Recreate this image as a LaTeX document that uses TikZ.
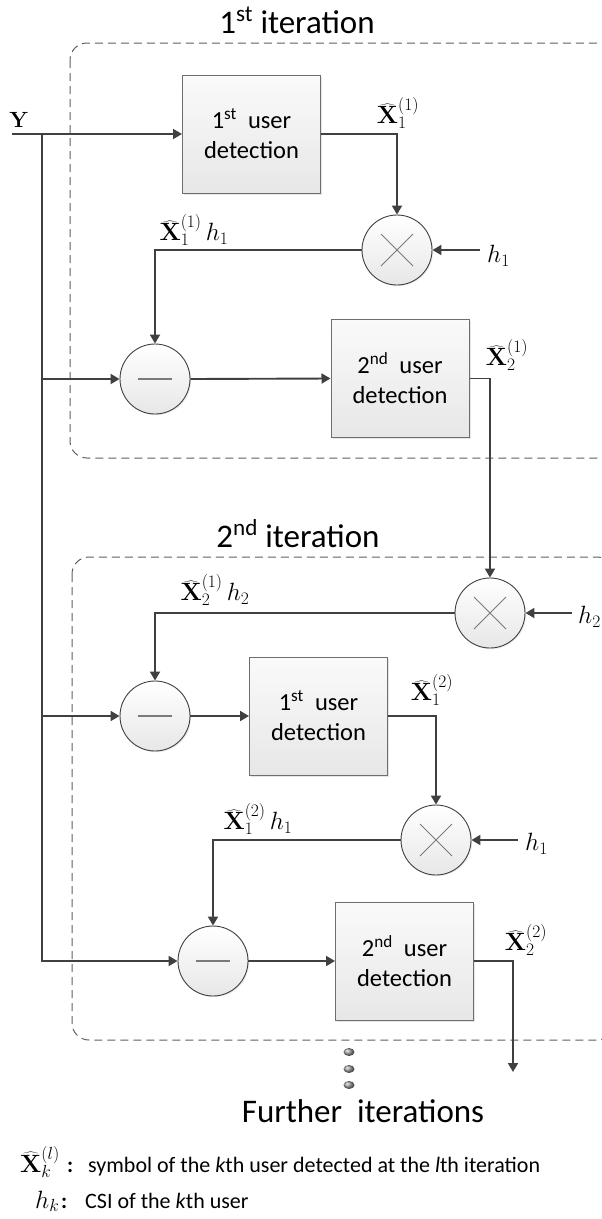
\documentclass[tikz,border=0pt]{standalone}
\usepackage{fix-cm}
\usepackage[no-math]{fontspec}
\setmainfont{Carlito}
\usetikzlibrary{arrows.meta,shadows,shapes.geometric}

\definecolor{wirecol}{HTML}{404040}
\definecolor{boxline}{HTML}{6E6E6E}
\definecolor{boxtop}{HTML}{FAFAFA}
\definecolor{boxbot}{HTML}{E7E7E7}
\definecolor{dashcol}{HTML}{606060}
\definecolor{signcol}{HTML}{7A7A7A}

\newcommand{\Xh}{\widehat{\mathbf{X}}}

\begin{document}
\begin{tikzpicture}[x=1pt,y=-1pt,
  wire/.style={draw=wirecol,line width=1.9pt},
  arr/.style={wire,-{Triangle[length=9pt,width=10pt]}},
  dbox/.style={draw=dashcol,line width=1pt,dash pattern=on 8pt off 5pt,rounded corners=17pt},
  blk/.style={draw=boxline,line width=1pt,top color=boxtop,bottom color=boxbot,
    minimum width=138pt,minimum height=118pt,inner sep=0pt,align=center,
    font=\fontsize{24.5}{30}\selectfont,
    drop shadow={shadow xshift=1.5pt,shadow yshift=-1.5pt,opacity=0.2}},
  sumnode/.style={circle,draw=wirecol,line width=0.9pt,top color=white,bottom color=boxbot,
    minimum size=70pt,inner sep=0pt,
    drop shadow={shadow xshift=1.2pt,shadow yshift=-1.2pt,opacity=0.15}},
  mult/.style={sumnode,path picture={
    \draw[signcol,line width=0.9pt]
      ([shift={(-16pt,-16pt)}]path picture bounding box.center) -- ([shift={(16pt,16pt)}]path picture bounding box.center)
      ([shift={(-16pt,16pt)}]path picture bounding box.center) -- ([shift={(16pt,-16pt)}]path picture bounding box.center);}},
  minus/.style={sumnode,path picture={
    \draw[signcol,line width=1.2pt]
      ([xshift=-17pt]path picture bounding box.center) -- ([xshift=17pt]path picture bounding box.center);}},
  ttl/.style={font=\fontsize{33}{38}\selectfont,anchor=base,inner sep=0pt},
  mlab/.style={font=\fontsize{25}{29}\selectfont,inner sep=0pt},
  leg/.style={font=\fontsize{22}{26}\selectfont,anchor=base west,inner sep=0pt},
  dot/.style={ellipse,minimum width=11pt,minimum height=8pt,inner sep=0pt,shade,ball color=gray!80}]

\useasboundingbox (0,0) rectangle (602,1219);
\clip (0,0) rectangle (602,1219);
\fill[white] (0,0) rectangle (602,1219);

% iteration frames
\draw[dbox] (70,43) rectangle (614,458);
\draw[dbox] (72,557) rectangle (614,1040);
\node[ttl] (t1) at (297,33) {1\textsuperscript{st} iteration};
\node[ttl] (t2) at (298,547) {2\textsuperscript{nd} iteration};

% blocks
\node[blk] (b1) at (251.5,134) {1\textsuperscript{st}\ \ user\\detection};
\node[blk] (b2) at (400,378.5) {2\textsuperscript{nd}\ \ user\\detection};
\node[blk] (b3) at (318.5,716) {1\textsuperscript{st}\ \ user\\detection};
\node[blk] (b4) at (404.5,961) {2\textsuperscript{nd}\ \ user\\detection};

\node[mult] (m1) at (397,250) {};
\node[mult] (m2) at (490,613) {};
\node[mult] (m3) at (436,840) {};

\node[minus] (s1) at (155,379) {};
\node[minus] (s2) at (155,716) {};
\node[minus] (s3) at (213,961) {};

% input and bus
\node[mlab,font=\fontsize{22}{26}\selectfont] (ylab) at (19,120) {$\mathbf{Y}$};
\coordinate (yin) at (12,134);
\coordinate (bt) at (42,134);
\draw[arr] (yin) -- (b1.west);
\draw[arr] (bt) |- (s3.west);
\draw[arr] (bt |- s1) -- (s1.west);
\draw[arr] (bt |- s2) -- (s2.west);

% first iteration
\draw[arr] (b1.east) -| (m1.north);
\draw[arr] (m1.west) -| (s1.north);
\draw[arr] (s1.east) -- (b2.west);
\draw[arr] (b2.east) -| (m2.north);

% second iteration
\draw[arr] (m2.west) -| (s2.north);
\draw[arr] (s2.east) -- (b3.west);
\draw[arr] (b3.east) -| (m3.north);
\draw[arr] (m3.west) -| (s3.north);
\draw[arr] (s3.east) -- (b4.west);
\coordinate (out) at (513,1072);
\draw[arr] (b4.east) -| (out);

% channel inputs
\coordinate (h1a) at (480,250);
\coordinate (h2a) at (572,613);
\coordinate (h1b) at (518,840);
\draw[arr] (h1a) -- (m1.east);
\draw[arr] (h2a) -- (m2.east);
\draw[arr] (h1b) -- (m3.east);
\node[mlab,anchor=west] (lh1a) at (487,256) {$h_1$};
\node[mlab,anchor=west] (lh2a) at (578,617) {$h_2$};
\node[mlab,anchor=west] (lh1b) at (525,844) {$h_1$};

% signal labels
\node[mlab] (lx11) at (398,113) {$\Xh_1^{(1)}$};
\node[mlab] (lp11) at (194,230) {$\Xh_1^{(1)}\,h_1$};
\node[mlab] (lx21) at (507,355) {$\Xh_2^{(1)}$};
\node[mlab] (lp21) at (215,590) {$\Xh_2^{(1)}\,h_2$};
\node[mlab] (lx12) at (432,690) {$\Xh_1^{(2)}$};
\node[mlab] (lp12) at (258,819) {$\Xh_1^{(2)}\,h_1$};
\node[mlab] (lx22) at (526,940) {$\Xh_2^{(2)}$};

% further iterations
\node[dot] (d1) at (349,1052) {};
\node[dot] (d2) at (349,1069) {};
\node[dot] (d3) at (349,1085) {};
\node[ttl] (fur) at (363,1122) {Further\ \ iterations};

% legend
\node[mlab,anchor=base west] (k1) at (20,1172) {$\Xh_k^{(l)}$};
\node[leg] (c1) at (67,1172) {\textbf{:}};
\node[leg] (e1) at (88,1172) {symbol of the \textit{k}th user detected at the \textit{l}th iteration};
\node[mlab,anchor=base west] (k2) at (35,1208) {$h_k$};
\node[leg] (c2) at (61,1208) {\textbf{:}};
\node[leg] (e2) at (85,1208) {CSI of the \textit{k}th user};
\end{tikzpicture}
\end{document}
